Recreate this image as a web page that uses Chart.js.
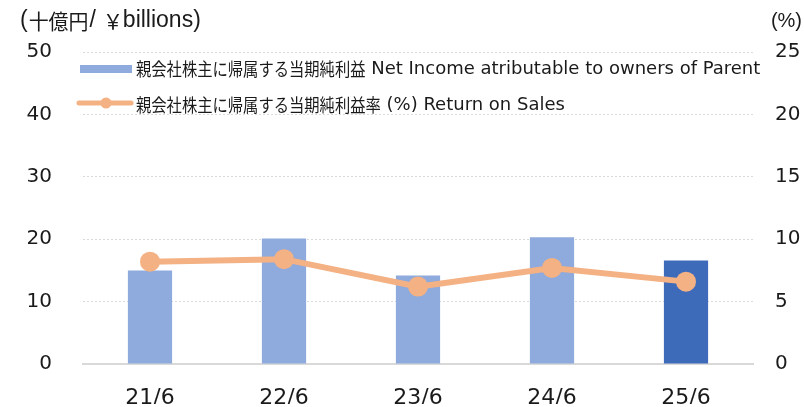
<!DOCTYPE html>
<html>
<head>
<meta charset="utf-8">
<script src="https://cdn.jsdelivr.net/npm/chart.js@4/dist/chart.umd.min.js"></script>
<style>
  html, body { margin: 0; padding: 0; background: #ffffff; }
  #wrap { width: 804px; height: 407px; position: relative; }
</style>
</head>
<body>
<div id="wrap"><canvas id="c" width="804" height="407"></canvas></div>
<script>
const categories = ['21/6', '22/6', '23/6', '24/6', '25/6'];
const netIncome = [15.0, 20.1, 14.2, 20.3, 16.6];
const returnOnSales = [8.2, 8.4, 6.2, 7.7, 6.6];
const leftTicks = [0, 10, 20, 30, 40, 50];
const rightTicks = [0, 5, 10, 15, 20, 25];
const barLabel = '親会社株主に帰属する当期純利益 Net Income atributable to owners of Parent';
const lineLabel = '親会社株主に帰属する当期純利益率 (%) Return on Sales';
const leftTitle = '(十億円/￥billions)';
const rightTitle = '(%)';

const lightBlue = '#8FAADC';
const darkBlue = '#3D6BBA';
const orange = '#F4B183';
const textColor = '#1a1a1a';
const barColors = categories.map((c, i) => i === categories.length - 1 ? darkBlue : lightBlue);

const tickFont = { family: '"DejaVu Sans", Verdana, "Noto Sans CJK JP", sans-serif', size: 20 };
const xFont = { family: '"DejaVu Sans", Verdana, "Noto Sans CJK JP", sans-serif', size: 22 };

// draw text mixing a Latin font and a (horizontally condensed) CJK font
function drawMixed(ctx, text, x, y, latinFont, cjkFont, cjkScale, gaps) {
  const isCJK = ch => /[\u3000-\u9fff\uff00-\uffef]/.test(ch);
  const runs = [];
  for (const ch of text) {
    const c = isCJK(ch);
    if (runs.length && runs[runs.length - 1].cjk === c) runs[runs.length - 1].t += ch;
    else runs.push({ t: ch, cjk: c });
  }
  let cx = x;
  runs.forEach((r, i) => {
    const g = Array.isArray(gaps) ? (gaps[i] || 0) : (gaps || 0);
    if (r.cjk) {
      ctx.font = cjkFont;
      const w = ctx.measureText(r.t).width * cjkScale;
      ctx.save();
      ctx.translate(cx, y);
      ctx.scale(cjkScale, 1);
      ctx.fillText(r.t, 0, 0);
      ctx.restore();
      cx += w + g;
    } else {
      ctx.font = latinFont;
      ctx.fillText(r.t, cx, y);
      cx += ctx.measureText(r.t).width + g;
    }
  });
  return cx;
}

const overlayPlugin = {
  id: 'overlay',
  afterDraw(chart) {
    const ctx = chart.ctx;
    ctx.save();
    ctx.fillStyle = textColor;
    ctx.textBaseline = 'middle';
    ctx.textAlign = 'left';
    // axis titles
    drawMixed(ctx, leftTitle, 20, 21,
      '23px "Liberation Sans", Arial, sans-serif',
      '21px "Noto Sans CJK JP", sans-serif', 0.95, [1, 1, 7, 0, 0]);
    ctx.textAlign = 'right';
    ctx.font = '20px "Liberation Sans", Arial, sans-serif';
    ctx.fillText(rightTitle, 802, 21);
    ctx.textAlign = 'left';
    // legend
    const ds = chart.data.datasets;
    const latin = '18px "DejaVu Sans", Verdana, sans-serif';
    const cjk = '18px "Noto Sans CJK JP", sans-serif';
    // bar item
    ctx.fillStyle = lightBlue;
    ctx.fillRect(80, 65, 52, 8);
    ctx.fillStyle = textColor;
    drawMixed(ctx, ds[1].label, 136, 69, latin, cjk, 0.85, 0);
    // line item
    ctx.strokeStyle = orange;
    ctx.lineWidth = 5;
    ctx.lineCap = 'round';
    ctx.beginPath();
    ctx.moveTo(79, 103);
    ctx.lineTo(131, 103);
    ctx.stroke();
    ctx.fillStyle = orange;
    ctx.beginPath();
    ctx.arc(106, 103, 5.5, 0, Math.PI * 2);
    ctx.fill();
    ctx.fillStyle = textColor;
    drawMixed(ctx, ds[0].label, 136, 105, latin, cjk, 0.85, 0);
    ctx.restore();
  }
};

new Chart(document.getElementById('c'), {
  data: {
    labels: categories,
    datasets: [
      {
        type: 'line',
        label: lineLabel,
        data: returnOnSales,
        yAxisID: 'y2',
        borderColor: orange,
        backgroundColor: orange,
        borderWidth: 6,
        pointRadius: 10,
        pointHoverRadius: 10,
        pointBorderWidth: 0,
        pointBackgroundColor: orange,
        tension: 0,
        order: 1
      },
      {
        type: 'bar',
        label: barLabel,
        data: netIncome,
        yAxisID: 'y',
        backgroundColor: barColors,
        borderWidth: 0,
        barPercentage: 0.33,
        categoryPercentage: 1.0,
        order: 2
      }
    ]
  },
  options: {
    responsive: false,
    animation: false,
    layout: { padding: { top: 52, left: 0, right: 0, bottom: 0 } },
    plugins: {
      legend: { display: false },
      tooltip: { enabled: false },
      title: { display: false }
    },
    scales: {
      x: {
        grid: { display: false, drawTicks: false },
        border: { display: true, color: '#D9D9D9', width: 2 },
        ticks: { font: xFont, color: textColor, padding: 21, maxRotation: 0 },
        afterFit(scale) { scale.height = 40; }
      },
      y: {
        position: 'left',
        min: leftTicks[0],
        max: leftTicks[leftTicks.length - 1],
        afterBuildTicks(scale) { scale.ticks = leftTicks.map(v => ({ value: v })); },
        grid: { color: '#D9D9D9', lineWidth: 1, drawTicks: false },
        border: { display: false, dash: [2, 2] },
        ticks: { font: tickFont, color: textColor, padding: 31 },
        afterFit(scale) { scale.width = 83; }
      },
      y2: {
        position: 'right',
        min: rightTicks[0],
        max: rightTicks[rightTicks.length - 1],
        afterBuildTicks(scale) { scale.ticks = rightTicks.map(v => ({ value: v })); },
        grid: { drawOnChartArea: false, drawTicks: false },
        border: { display: false },
        ticks: { font: tickFont, color: textColor, padding: 22 },
        afterFit(scale) { scale.width = 51; }
      }
    }
  },
  plugins: [overlayPlugin]
});
</script>
</body>
</html>
